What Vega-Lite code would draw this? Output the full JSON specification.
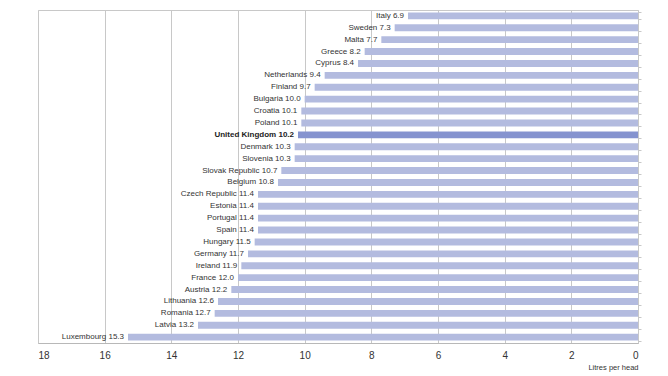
{
  "$schema": "https://vega.github.io/schema/vega-lite/v6.json",
  "width": 600,
  "height": 333,
  "autosize": {"type": "none"},
  "padding": {"left": 38, "top": 10, "right": 30, "bottom": 33},
  "background": "white",
  "config": {
    "font": "Liberation Sans",
    "view": {"stroke": "#c8c8c8", "strokeWidth": 1}
  },
  "data": {
    "values": [
      {"country": "Italy", "value": 6.9, "label": "Italy  6.9", "uk": false},
      {"country": "Sweden", "value": 7.3, "label": "Sweden 7.3", "uk": false},
      {"country": "Malta", "value": 7.7, "label": "Malta 7.7", "uk": false},
      {"country": "Greece", "value": 8.2, "label": "Greece  8.2", "uk": false},
      {"country": "Cyprus", "value": 8.4, "label": "Cyprus 8.4", "uk": false},
      {"country": "Netherlands", "value": 9.4, "label": "Netherlands  9.4", "uk": false},
      {"country": "Finland", "value": 9.7, "label": "Finland 9.7", "uk": false},
      {"country": "Bulgaria", "value": 10.0, "label": "Bulgaria 10.0", "uk": false},
      {"country": "Croatia", "value": 10.1, "label": "Croatia 10.1", "uk": false},
      {"country": "Poland", "value": 10.1, "label": "Poland 10.1", "uk": false},
      {"country": "United Kingdom", "value": 10.2, "label": "United Kingdom 10.2", "uk": true},
      {"country": "Denmark", "value": 10.3, "label": "Denmark 10.3", "uk": false},
      {"country": "Slovenia", "value": 10.3, "label": "Slovenia 10.3", "uk": false},
      {"country": "Slovak Republic", "value": 10.7, "label": "Slovak Republic 10.7", "uk": false},
      {"country": "Belgium", "value": 10.8, "label": "Belgium  10.8", "uk": false},
      {"country": "Czech Republic", "value": 11.4, "label": "Czech Republic 11.4", "uk": false},
      {"country": "Estonia", "value": 11.4, "label": "Estonia 11.4", "uk": false},
      {"country": "Portugal", "value": 11.4, "label": "Portugal 11.4", "uk": false},
      {"country": "Spain", "value": 11.4, "label": "Spain 11.4", "uk": false},
      {"country": "Hungary", "value": 11.5, "label": "Hungary  11.5", "uk": false},
      {"country": "Germany", "value": 11.7, "label": "Germany 11.7", "uk": false},
      {"country": "Ireland", "value": 11.9, "label": "Ireland 11.9", "uk": false},
      {"country": "France", "value": 12.0, "label": "France  12.0", "uk": false},
      {"country": "Austria", "value": 12.2, "label": "Austria  12.2", "uk": false},
      {"country": "Lithuania", "value": 12.6, "label": "Lithuania 12.6", "uk": false},
      {"country": "Romania", "value": 12.7, "label": "Romania 12.7", "uk": false},
      {"country": "Latvia", "value": 13.2, "label": "Latvia 13.2", "uk": false},
      {"country": "Luxembourg", "value": 15.3, "label": "Luxembourg  15.3", "uk": false}
    ]
  },
  "encoding": {
    "y": {
      "field": "country",
      "type": "nominal",
      "sort": null,
      "scale": {"paddingInner": 0.42, "paddingOuter": 0.2},
      "axis": {
        "orient": "right",
        "title": null,
        "labels": false,
        "domain": false,
        "ticks": true,
        "tickSize": 3,
        "tickColor": "#c8c8c8",
        "tickBand": "extent",
        "grid": false
      }
    },
    "x": {
      "field": "value",
      "type": "quantitative",
      "scale": {"domain": [0, 18], "reverse": true, "nice": false, "zero": true},
      "axis": {
        "values": [0, 2, 4, 6, 8, 10, 12, 14, 16, 18],
        "grid": true,
        "gridColor": "#c8c8c8",
        "gridWidth": 1,
        "domainColor": "#b8b8b8",
        "ticks": false,
        "labelFontSize": 10,
        "labelColor": "#333333",
        "labelPadding": 7,
        "title": "Litres per head",
        "titleFontSize": 7.5,
        "titleFontWeight": "normal",
        "titleColor": "#333333",
        "titleAnchor": "start",
        "titleAlign": "right",
        "titlePadding": 3
      }
    }
  },
  "layer": [
    {
      "mark": {"type": "bar"},
      "encoding": {
        "color": {
          "condition": {"test": "datum.uk", "value": "#8593cf"},
          "value": "#b3bbdf"
        }
      }
    },
    {
      "transform": [{"filter": "!datum.uk"}],
      "mark": {"type": "text", "align": "right", "baseline": "middle", "dx": -4, "fontSize": 8, "color": "#333333"},
      "encoding": {
        "text": {"field": "label"}
      }
    },
    {
      "transform": [{"filter": "datum.uk"}],
      "mark": {"type": "text", "align": "right", "baseline": "middle", "dx": -4, "fontSize": 8, "fontWeight": "bold", "color": "#222222"},
      "encoding": {
        "text": {"field": "label"}
      }
    }
  ]
}
